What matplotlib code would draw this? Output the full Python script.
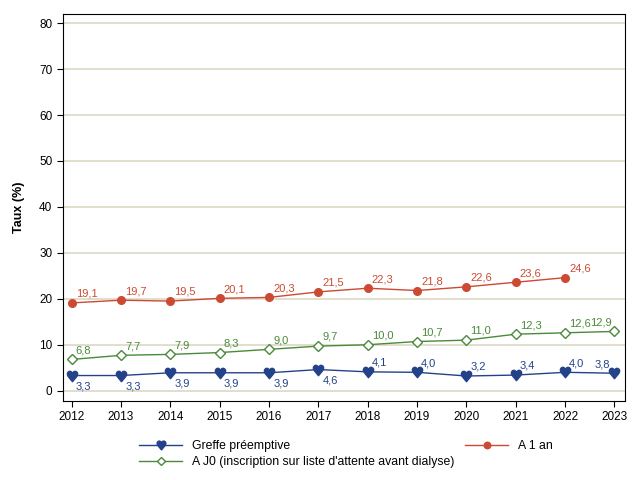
import matplotlib.pyplot as plt

annees = [2012, 2013, 2014, 2015, 2016, 2017, 2018, 2019, 2020, 2021, 2022, 2023]
greffe = [3.3, 3.3, 3.9, 3.9, 3.9, 4.6, 4.1, 4.0, 3.2, 3.4, 4.0, 3.8]
a_j0 = [6.8, 7.7, 7.9, 8.3, 9.0, 9.7, 10.0, 10.7, 11.0, 12.3, 12.6, 12.9]
annees_1an = [2012, 2013, 2014, 2015, 2016, 2017, 2018, 2019, 2020, 2021, 2022]
a_1an = [19.1, 19.7, 19.5, 20.1, 20.3, 21.5, 22.3, 21.8, 22.6, 23.6, 24.6]

bleu = '#24428a'
vert = '#4a8a3a'
rouge = '#cc4a33'

plt.rcParams['font.family'] = ['Liberation Sans', 'DejaVu Sans']

fig = plt.figure(figsize=(6.4, 4.8), dpi=100)
ax = fig.add_axes([0.098, 0.165, 0.879, 0.806])

ax.plot(annees, greffe, color=bleu, lw=1, marker='$\u2665$', ms=7.5,
        mec=bleu, mfc=bleu, label='Greffe préemptive')
ax.plot(annees, a_j0, color=vert, lw=1, marker='D', ms=4.8, mfc='white',
        mec=vert, mew=1, label="A J0 (inscription sur liste d'attente avant dialyse)")
ax.plot(annees_1an, a_1an, color=rouge, lw=1, marker='o', ms=5.5,
        mfc=rouge, mec=rouge, label='A 1 an')

# étiquettes
for i, (x, y) in enumerate(zip(annees, greffe)):
    txt = f'{y:.1f}'.replace('.', ',')
    if i < 6:
        ax.annotate(txt, (x, y), xytext=(3, -4), textcoords='offset points',
                    ha='left', va='top', color=bleu, fontsize=8)
    elif i == len(annees) - 1:
        ax.annotate(txt, (x, y), xytext=(-3, 3), textcoords='offset points',
                    ha='right', va='bottom', color=bleu, fontsize=8)
    else:
        ax.annotate(txt, (x, y), xytext=(3, 3), textcoords='offset points',
                    ha='left', va='bottom', color=bleu, fontsize=8)
for i, (x, y) in enumerate(zip(annees, a_j0)):
    txt = f'{y:.1f}'.replace('.', ',')
    if i == len(annees) - 1:
        ax.annotate(txt, (x, y), xytext=(-2, 3), textcoords='offset points',
                    ha='right', va='bottom', color=vert, fontsize=8)
    else:
        ax.annotate(txt, (x, y), xytext=(3, 3), textcoords='offset points',
                    ha='left', va='bottom', color=vert, fontsize=8)
for x, y in zip(annees_1an, a_1an):
    txt = f'{y:.1f}'.replace('.', ',')
    ax.annotate(txt, (x, y), xytext=(3, 3), textcoords='offset points',
                ha='left', va='bottom', color=rouge, fontsize=8)

ax.set_xlim(2011.82, 2023.22)
ax.set_ylim(-2.2, 82)
ax.set_xticks(annees)
ax.set_yticks(range(0, 81, 10))
ax.tick_params(labelsize=8.5, direction='out', length=4)
ax.yaxis.grid(True, color='#ddd8c4', lw=1.2)
ax.set_axisbelow(True)
ax.set_ylabel('Taux (%)', fontsize=9, fontweight='bold', labelpad=10)

h, l = ax.get_legend_handles_labels()
fig.legend(h, l, ncol=2, loc='upper left', bbox_to_anchor=(0.208, 0.096),
           frameon=False, fontsize=8.8, columnspacing=0.9, handlelength=3.5,
           labelspacing=0.35, borderpad=0, markerscale=0.85)

fig.savefig('out.png', dpi=100)
